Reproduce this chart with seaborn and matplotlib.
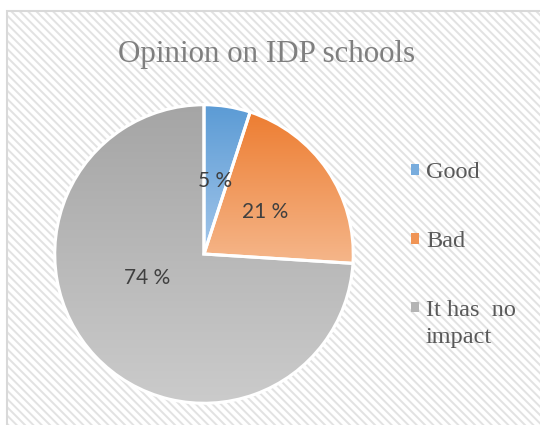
import numpy as np
import matplotlib
matplotlib.use("Agg")
import matplotlib.pyplot as plt
from matplotlib.patches import Rectangle, Patch
from matplotlib.colors import LinearSegmentedColormap, to_rgb
import seaborn as sns

# ---- data ----
categories = ["Good", "Bad", "It has  no"]
category_wrap = ["", "", "impact"]
shares = [5, 21, 74]
title = "Opinion on IDP schools"

# gradient colours (top -> bottom) for each slice
top_colors = ["#5b9bd5", "#ed7d31", "#a5a5a5"]
bottom_colors = ["#a3c6ea", "#f5b68a", "#cbcbcb"]

# label placement (radial distance as a fraction of the radius, angular shift in degrees)
label_dist = [0.49, 0.495, 0.41]
label_shift = [0.0, 0.0, -20.0]

sns.set_theme(style="white")
plt.rcParams["hatch.linewidth"] = 1.4

W, H = 540, 425
fig = plt.figure(figsize=(W / 100, H / 100), dpi=100)
fig.patch.set_facecolor("white")

# striped chart area with a light border
fig.patches.append(Rectangle((7 / W, -0.01), 1.0, 1 - 11 / H + 0.01, transform=fig.transFigure,
                             facecolor="white", edgecolor="#e2e2e2", hatch="\\\\\\\\",
                             linewidth=0, zorder=-2))
fig.patches.append(Rectangle((7 / W, -0.01), 1.0, 1 - 11 / H + 0.01, transform=fig.transFigure,
                             fill=False, edgecolor="#d9d9d9", linewidth=1.5, zorder=-1))

# pie axes: centre and radius in pixels
cx, cy, R = 204, 254, 150
ax = fig.add_axes([(cx - R) / W, (H - cy - R) / H, 2 * R / W, 2 * R / H])
ax.patch.set_alpha(0)

wedges, _ = ax.pie(shares, startangle=90, counterclock=False, radius=0.995,
                   wedgeprops=dict(edgecolor="white", linewidth=2.2))

# vertical gradient fill, clipped to each wedge
grad = np.linspace(0, 1, 256).reshape(-1, 1)
for w, c0, c1 in zip(wedges, top_colors, bottom_colors):
    ext = w.get_path().get_extents()
    cmap = LinearSegmentedColormap.from_list("g", [c0, c1])
    im = ax.imshow(grad, cmap=cmap, extent=(ext.x0, ext.x1, ext.y0, ext.y1),
                   origin="upper", aspect="auto", interpolation="bilinear", zorder=1)
    im.set_clip_path(w)
    w.set_facecolor("none")
    w.set_zorder(2)

ax.set_xlim(-1, 1)
ax.set_ylim(-1, 1)
ax.set_aspect("equal")
ax.axis("off")

# percentage labels
total = sum(shares)
cum = np.cumsum([0] + shares)
for i, v in enumerate(shares):
    ang = np.deg2rad(90 - 360 * (cum[i] + v / 2) / total + label_shift[i])
    d = label_dist[i]
    ax.text(d * np.cos(ang), d * np.sin(ang), f"{v} %", ha="center", va="center",
            fontsize=15, family="Lato", color="#404040", zorder=5)

# title
fig.text(266.5 / W, 1 - 62 / H, title, ha="center", va="baseline",
         fontsize=22.3, family="Liberation Serif", color="#7f7f7f")

# legend
def mix(a, b):
    a, b = np.array(to_rgb(a)), np.array(to_rgb(b))
    return tuple(0.6 * a + 0.4 * b)

handles = [Patch(facecolor=mix(a, b), edgecolor="none") for a, b in zip(top_colors, bottom_colors)]
leg = fig.legend(handles, categories, loc="upper left", bbox_to_anchor=(411 / W, 1 - 162 / H),
                 frameon=False, prop=dict(family="Liberation Serif", size=17.5),
                 labelcolor="#595959", handlelength=0.31, handleheight=0.31,
                 handletextpad=0.3, labelspacing=1.97, borderpad=0, borderaxespad=0)

# wrapped continuation lines under legend entries
fig.canvas.draw()
inv = fig.transFigure.inverted()
for txt, extra in zip(leg.get_texts(), category_wrap):
    if extra:
        bb = txt.get_window_extent()
        x0, y0 = inv.transform((bb.x0, bb.y0 - 27))
        fig.text(x0, y0, extra, ha="left", va="bottom", family="Liberation Serif",
                 size=17.5, color="#595959")

fig.savefig("out.png", dpi=100)
